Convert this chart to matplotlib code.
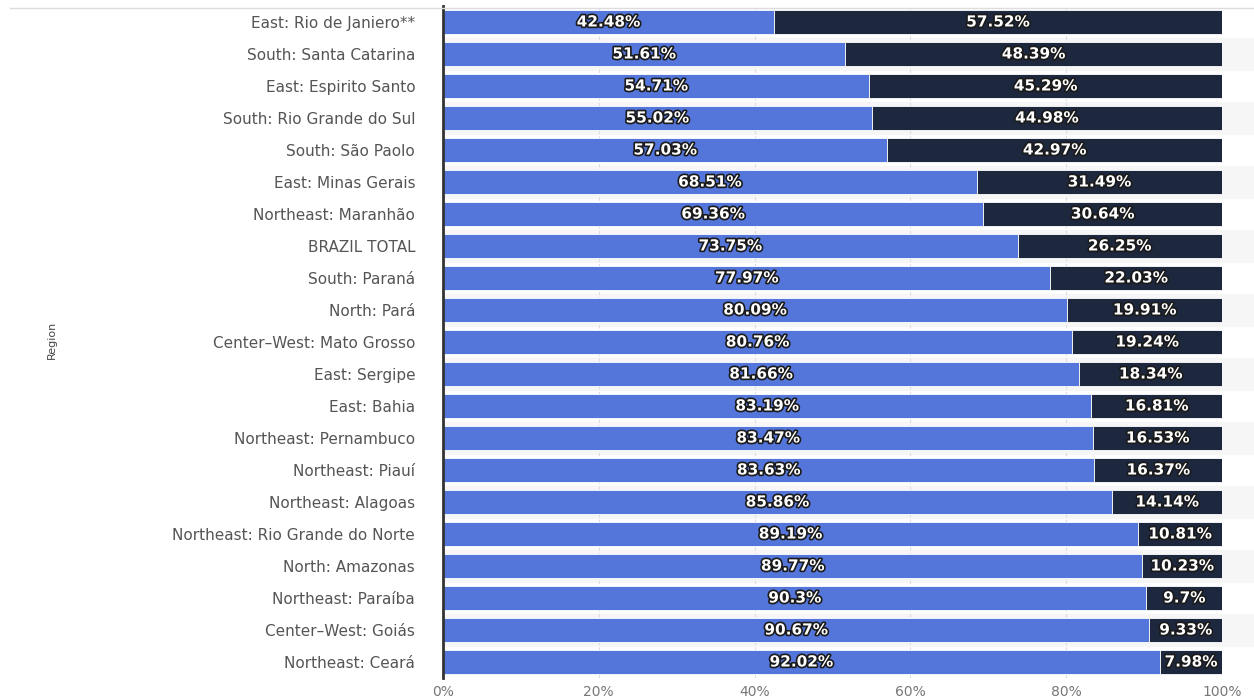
import matplotlib
matplotlib.use("Agg")
import matplotlib.pyplot as plt
import matplotlib.patheffects as pe
from matplotlib.lines import Line2D

regions = ["East: Rio de Janiero**", "South: Santa Catarina", "East: Espirito Santo",
           "South: Rio Grande do Sul", "South: São Paolo", "East: Minas Gerais",
           "Northeast: Maranhão", "BRAZIL TOTAL", "South: Paraná", "North: Pará",
           "Center–West: Mato Grosso", "East: Sergipe", "East: Bahia",
           "Northeast: Pernambuco", "Northeast: Piauí", "Northeast: Alagoas",
           "Northeast: Rio Grande do Norte", "North: Amazonas", "Northeast: Paraíba",
           "Center–West: Goiás", "Northeast: Ceará"]
share_a = [42.48, 51.61, 54.71, 55.02, 57.03, 68.51, 69.36, 73.75, 77.97, 80.09,
           80.76, 81.66, 83.19, 83.47, 83.63, 85.86, 89.19, 89.77, 90.3, 90.67, 92.02]
share_b = [57.52, 48.39, 45.29, 44.98, 42.97, 31.49, 30.64, 26.25, 22.03, 19.91,
           19.24, 18.34, 16.81, 16.53, 16.37, 14.14, 10.81, 10.23, 9.7, 9.33, 7.98]
label_a = ["42.48%", "51.61%", "54.71%", "55.02%", "57.03%", "68.51%", "69.36%", "73.75%",
           "77.97%", "80.09%", "80.76%", "81.66%", "83.19%", "83.47%", "83.63%", "85.86%",
           "89.19%", "89.77%", "90.3%", "90.67%", "92.02%"]
label_b = ["57.52%", "48.39%", "45.29%", "44.98%", "42.97%", "31.49%", "30.64%", "26.25%",
           "22.03%", "19.91%", "19.24%", "18.34%", "16.81%", "16.53%", "16.37%", "14.14%",
           "10.81%", "10.23%", "9.7%", "9.33%", "7.98%"]
xticks = [0, 20, 40, 60, 80, 100]
xtick_labels = ["0%", "20%", "40%", "60%", "80%", "100%"]

BLUE = "#5475d9"
NAVY = "#1d283e"

fig = plt.figure(figsize=(12.54, 6.98), dpi=100)
ax = fig.add_axes([443/1254, 1 - 678/698, (1222-443)/1254, (678-6)/698])

y = list(range(len(regions)))
# alternating row bands
for i in y:
    if i % 2 == 1:
        ax.axhspan(i - 0.5, i + 0.5, xmin=0, xmax=1.05, color="#f6f6f6", zorder=0, clip_on=False)

ax.barh(y, share_a, height=0.76, color=BLUE, edgecolor="white", linewidth=0.6, zorder=2)
ax.barh(y, share_b, left=share_a, height=0.76, color=NAVY, edgecolor="white", linewidth=0.6, zorder=2)

stroke = [pe.withStroke(linewidth=2.4, foreground="#1a1a1a")]
for i in y:
    ax.text(share_a[i] / 2, i, label_a[i], ha="center", va="center", color="white",
            fontsize=11, fontweight="bold", family="DejaVu Sans", path_effects=stroke, zorder=3)
    ax.text(share_a[i] + share_b[i] / 2, i, label_b[i], ha="center", va="center", color="white",
            fontsize=11, fontweight="bold", family="DejaVu Sans", path_effects=stroke, zorder=3)

ax.set_xlim(0, 100)
ax.set_ylim(len(regions) - 0.5, -0.5)
ax.set_yticks(y)
ax.set_yticklabels(regions, fontsize=11, color="#555555", family="DejaVu Sans")
ax.set_xticks(xticks)
ax.set_xticklabels(xtick_labels, fontsize=10, color="#777777", family="DejaVu Sans")
ax.tick_params(axis="y", length=0, pad=20)
ax.tick_params(axis="x", length=0, pad=5)
ax.grid(axis="x", color="#dddddd", linestyle=(0, (3, 2)), linewidth=0.8, zorder=1)
ax.set_axisbelow(True)
for s in ["top", "right", "bottom"]:
    ax.spines[s].set_visible(False)
ax.spines["left"].set_color("#333333")
ax.spines["left"].set_linewidth(2)
ax.spines["left"].set_zorder(4)

fig.text(52/1254, 1 - 340/698, "Region", rotation=90, ha="center", va="center",
         fontsize=8, color="#444444", family="Liberation Sans Narrow")

fig.add_artist(Line2D([10/1254, 1], [1 - 8/698, 1 - 8/698], color="#dddddd", linewidth=1))

fig.savefig("out.png", dpi=100)
